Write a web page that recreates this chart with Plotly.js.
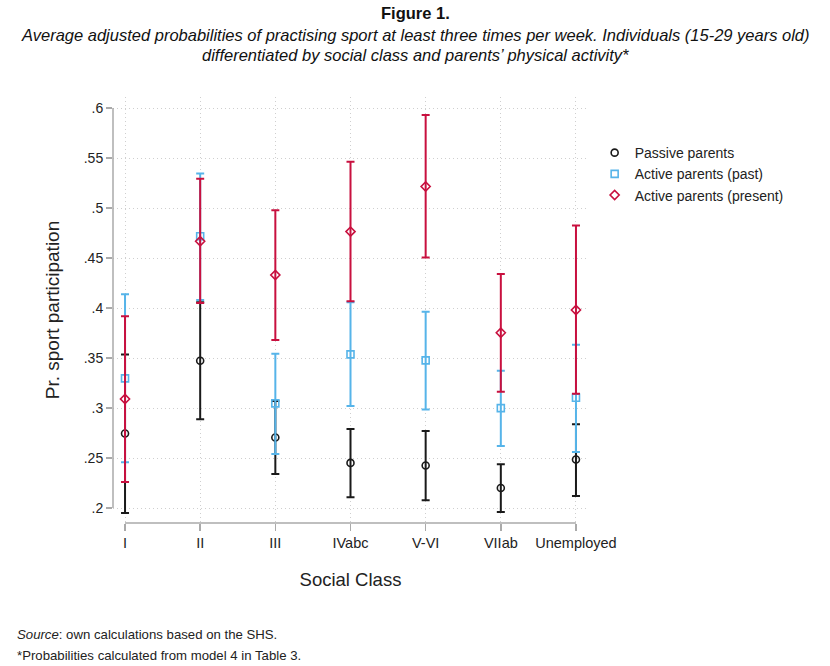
<!DOCTYPE html>
<html>
<head>
<meta charset="utf-8">
<script src="https://cdn.plot.ly/plotly-3.0.1.min.js"></script>
<style>
  html, body { margin: 0; padding: 0; background: #fff; }
  #chart { width: 830px; height: 666px; }
</style>
</head>
<body>
<div id="chart"></div>
<script>
// social classes on the x axis
const classes = ["I", "II", "III", "IVabc", "V-VI", "VIIab", "Unemployed"];

// point estimates and 95% CI bounds
const passiveMean  = [0.2745, 0.3472, 0.2705, 0.2451, 0.2425, 0.2200, 0.2485];
const passiveHigh  = [0.3536, 0.4057, 0.3070, 0.2791, 0.2771, 0.2438, 0.2838];
const passiveLow   = [0.1950, 0.2888, 0.2340, 0.2107, 0.2077, 0.1960, 0.2120];

const pastMean     = [0.3296, 0.4718, 0.3046, 0.3536, 0.3476, 0.2999, 0.3102];
const pastHigh     = [0.4137, 0.5345, 0.3543, 0.4057, 0.3963, 0.3372, 0.3633];
const pastLow      = [0.2458, 0.4080, 0.2540, 0.3019, 0.2985, 0.2621, 0.2561];

const presentMean  = [0.3090, 0.4668, 0.4330, 0.4764, 0.5215, 0.3753, 0.3980];
const presentHigh  = [0.3917, 0.5292, 0.4978, 0.5462, 0.5930, 0.4340, 0.4825];
const presentLow   = [0.2260, 0.4050, 0.3680, 0.4067, 0.4504, 0.3162, 0.3142];

const yTickVals = [0.2, 0.25, 0.3, 0.35, 0.4, 0.45, 0.5, 0.55, 0.6];
const yTickText = [".2", ".25", ".3", ".35", ".4", ".45", ".5", ".55", ".6"];

const FONT = "Liberation Sans, Arial, sans-serif";

function ciTrace(name, mean, high, low, symbol, color) {
    return {
        type: "scatter",
        mode: "markers",
        name: name,
        x: classes,
        y: mean,
        marker: { symbol: symbol, size: 7, color: color, line: { color: color, width: 1.6 } },
        error_y: {
            type: "data",
            symmetric: false,
            array: high.map((h, i) => h - mean[i]),
            arrayminus: mean.map((m, i) => m - low[i]),
            color: color,
            thickness: 2,
            width: 4
        }
    };
}

const traces = [
    ciTrace("Passive parents", passiveMean, passiveHigh, passiveLow, "circle-open", "#1a1a1a"),
    ciTrace("Active parents (past)", pastMean, pastHigh, pastLow, "square-open", "#56b4e9"),
    ciTrace("Active parents (present)", presentMean, presentHigh, presentLow, "diamond-open", "#c8103f")
];

const gridStyle = { showgrid: true, gridcolor: "#cfcfcf", griddash: "1px,3px", gridwidth: 1 };

// title lines sit centred on the page, not on the plot area
const titleX = (415 - 113) / 475;

const layout = {
    width: 830,
    height: 666,
    paper_bgcolor: "#fff",
    plot_bgcolor: "#fff",
    font: { family: FONT, color: "#222", size: 13 },
    margin: { l: 113, r: 242, t: 97, b: 143 },
    xaxis: Object.assign({
        type: "category",
        range: [-0.16, 6.16],
        showline: false,
        zeroline: false,
        ticks: "outside",
        ticklen: 7,
        tickwidth: 1.5,
        tickcolor: "#aaaaaa",
        tickfont: { family: FONT, size: 14.5, color: "#222" },
        title: { text: "Social Class", font: { family: FONT, size: 18.5, color: "#222" }, standoff: 22 }
    }, gridStyle),
    yaxis: Object.assign({
        range: [0.185, 0.611],
        tickvals: yTickVals,
        ticktext: yTickText,
        showline: false,
        zeroline: false,
        ticks: "outside",
        ticklen: 6,
        tickwidth: 1.5,
        tickcolor: "#aaaaaa",
        tickfont: { family: FONT, size: 14, color: "#222" },
        title: { text: "Pr. sport participation", font: { family: FONT, size: 19, color: "#222" }, standoff: 19 }
    }, gridStyle),
    showlegend: true,
    legend: {
        x: 1.014, xanchor: "left",
        y: 0.906, yanchor: "top",
        font: { family: FONT, size: 14, color: "#222" },
        bgcolor: "rgba(0,0,0,0)",
        itemwidth: 30,
        tracegroupgap: 0
    },
    // Stata-style axis lines that only run across the labelled range
    shapes: [
        { type: "line", xref: "paper", yref: "y", x0: 0, x1: 0, y0: yTickVals[0], y1: yTickVals[yTickVals.length - 1],
          line: { color: "#aaaaaa", width: 1.5 } },
        { type: "line", xref: "x", yref: "paper", x0: 0, x1: classes.length - 1, y0: 0, y1: 0,
          line: { color: "#aaaaaa", width: 1.5 } }
    ],
    annotations: [
        { text: "<b>Figure 1.</b>", xref: "paper", yref: "paper",
          x: titleX, y: (523 - 13) / 426, xanchor: "center", yanchor: "middle", showarrow: false,
          font: { family: FONT, size: 16.5, color: "#111" } },
        { text: "<i>Average adjusted probabilities of practising sport at least three times per week. Individuals (15-29 years old)</i>",
          xref: "paper", yref: "paper",
          x: titleX, y: (523 - 35) / 426, xanchor: "center", yanchor: "middle", showarrow: false,
          font: { family: FONT, size: 16.5, color: "#111" } },
        { text: "<i>differentiated by social class and parents’ physical activity*</i>", xref: "paper", yref: "paper",
          x: titleX, y: (523 - 55) / 426, xanchor: "center", yanchor: "middle", showarrow: false,
          font: { family: FONT, size: 16.5, color: "#111" } },
        { text: "<i>Source</i>: own calculations based on the SHS.", xref: "paper", yref: "paper",
          x: (15 - 113) / 475, y: (523 - 634) / 426, xanchor: "left", yanchor: "middle", showarrow: false,
          font: { family: FONT, size: 13.2, color: "#222" } },
        { text: "*Probabilities calculated from model 4 in Table 3.", xref: "paper", yref: "paper",
          x: (15 - 113) / 475, y: (523 - 655) / 426, xanchor: "left", yanchor: "middle", showarrow: false,
          font: { family: FONT, size: 13.2, color: "#222" } }
    ]
};

Plotly.newPlot("chart", traces, layout, { displayModeBar: false, staticPlot: true });
</script>
</body>
</html>
